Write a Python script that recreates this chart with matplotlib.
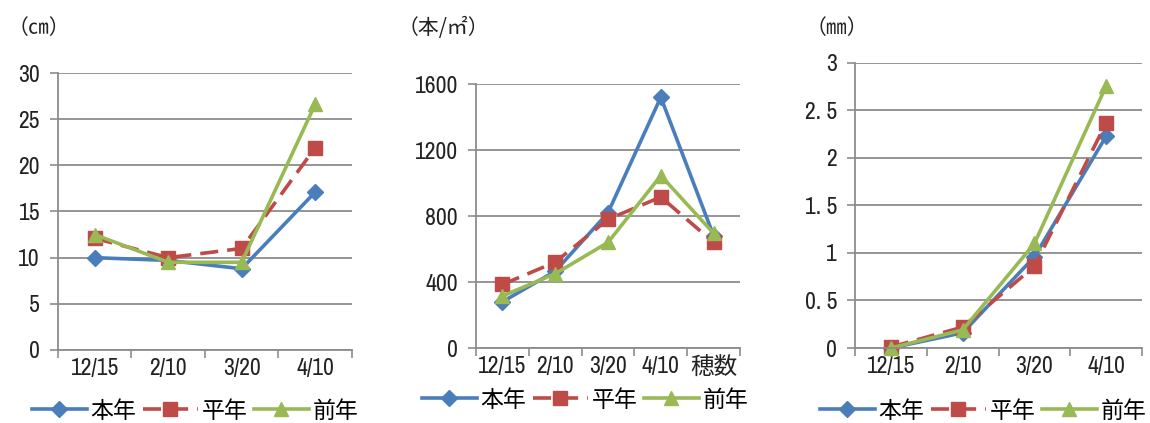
import matplotlib
matplotlib.use("Agg")
import matplotlib.pyplot as plt

plt.rcParams['font.family'] = ['Archivo Narrow', 'Noto Sans CJK JP', 'DejaVu Sans']

# Panel 1: 草丈 (cm)
cats1 = ["12/15", "2/10", "3/20", "4/10"]
h_this = [10.0, 9.7, 8.8, 17.1]
h_avg = [12.1, 10.0, 11.0, 21.9]
h_prev = [12.5, 9.5, 9.5, 26.6]

# Panel 2: 茎数 (本/㎡)
cats2 = ["12/15", "2/10", "3/20", "4/10", "穂数"]
s_this = [280, 465, 820, 1520, 680]
s_avg = [385, 520, 780, 915, 640]
s_prev = [315, 450, 640, 1045, 695]

# Panel 3: 幼穂長 (mm)
cats3 = ["12/15", "2/10", "3/20", "4/10"]
p_this = [0.0, 0.16, 0.96, 2.23]
p_avg = [0.01, 0.22, 0.86, 2.37]
p_prev = [0.0, 0.19, 1.10, 2.76]

series_names = ["本年", "平年", "前年"]
colors = ["#4A7EBB", "#BE4B48", "#98B954"]
markers = ["D", "s", "^"]
msizes = [8, 10, 10]
styles = ["-", (0, (5, 2.5)), "-"]

cjk = ['Noto Sans CJK JP', 'DejaVu Sans']

fig = plt.figure(figsize=(11.5, 4.23), dpi=100)

panels = [
    dict(rect=[0.0504, 0.1726, 0.2556, 0.6548], cats=cats1, data=[h_this, h_avg, h_prev],
         ylim=(0, 30), yticks=[0, 5, 10, 15, 20, 25, 30], ylabels=None,
         unit="（㎝）", unit_x=8, leg=(195, 411)),
    dict(rect=[0.4139, 0.1773, 0.2296, 0.6241], cats=cats2, data=[s_this, s_avg, s_prev],
         ylim=(0, 1600), yticks=[0, 400, 800, 1200, 1600], ylabels=None,
         unit="（本/㎡）", unit_x=398, leg=(585, 400)),
    dict(rect=[0.7435, 0.1773, 0.2496, 0.6738], cats=cats3, data=[p_this, p_avg, p_prev],
         ylim=(0, 3), yticks=[0, 0.5, 1, 1.5, 2, 2.5, 3],
         ylabels=["0", "0. 5", "1", "1. 5", "2", "2. 5", "3"],
         unit="（㎜）", unit_x=806, leg=(983, 411)),
]

gray = "#8C8C8C"
for p in panels:
    ax = fig.add_axes(p["rect"])
    n = len(p["cats"])
    x = list(range(n))
    lines = []
    for vals, name, c, m, ms, ls in zip(p["data"], series_names, colors, markers, msizes, styles):
        ln, = ax.plot(x, vals, color=c, lw=2.6, ls=ls, marker=m, ms=ms,
                      markeredgecolor=c, markerfacecolor=c, label=name, clip_on=False)
        lines.append(ln)
    ax.set_xlim(-0.5, n - 0.5)
    ax.set_ylim(*p["ylim"])
    ax.set_yticks(p["yticks"])
    if p["ylabels"]:
        ax.set_yticklabels(p["ylabels"])
    ax.set_xticks(x)
    ax.set_xticklabels(p["cats"])
    ax.set_xticks([i - 0.5 for i in range(n + 1)], minor=True)
    ax.tick_params(axis='x', which='major', length=0, pad=6, labelsize=17, colors="#222222")
    ax.tick_params(axis='x', which='minor', length=6, width=1.2, color=gray, direction='out')
    ax.tick_params(axis='y', length=6, width=1.2, color=gray, pad=7, labelsize=17, labelcolor="#222222")
    ax.grid(axis='y', color=gray, lw=1.3)
    ax.set_axisbelow(True)
    for s in ["top", "right"]:
        ax.spines[s].set_visible(False)
    for s in ["left", "bottom"]:
        ax.spines[s].set_color(gray)
        ax.spines[s].set_linewidth(1.3)
    fig.text(p["unit_x"] / 1150, 1 - 28 / 423, p["unit"], fontsize=15, va="center", ha="left",
             color="#222222", family=cjk)
    cx, cy = p["leg"]
    fig.legend(handles=lines, loc="center", bbox_to_anchor=(cx / 1150, 1 - cy / 423),
               bbox_transform=fig.transFigure,
               ncol=3, frameon=False, handlelength=2.4, handletextpad=0.15, columnspacing=0.3,
               prop={'family': cjk, 'size': 16.5}, borderaxespad=0, borderpad=0)

fig.savefig("out.png", dpi=100)
